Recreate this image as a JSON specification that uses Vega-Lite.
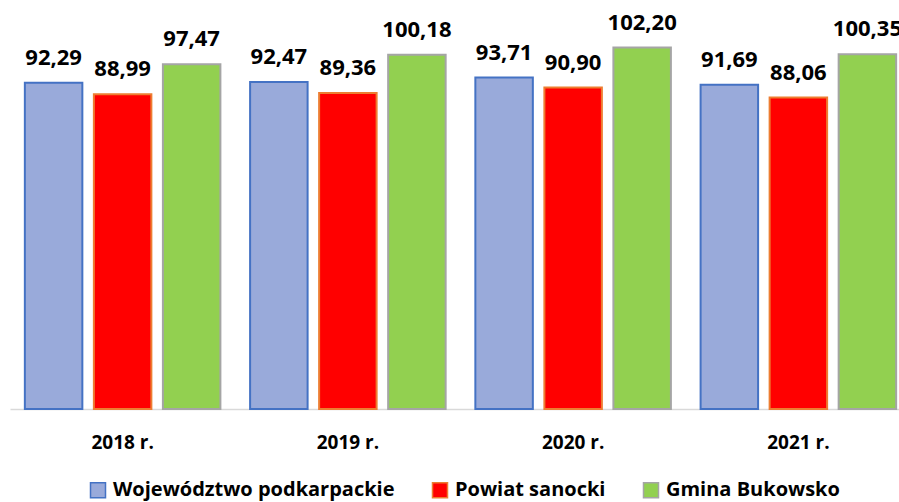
{
  "$schema": "https://vega.github.io/schema/vega-lite/v6.json",
  "autosize": {"type": "none"},
  "padding": {"left": 10, "top": 20, "right": 0, "bottom": 93},
  "width": 901,
  "height": 389,
  "background": "white",
  "config": {
    "locale": {"number": {"decimal": ",", "thousands": " ", "grouping": [3], "currency": ["", " zł"]}},
    "view": {"stroke": null},
    "font": "Open Sans"
  },
  "data": {
    "values": [
      {"rok": "2018 r.", "seria": "Województwo podkarpackie", "wartosc": 92.29},
      {"rok": "2018 r.", "seria": "Powiat sanocki", "wartosc": 88.99},
      {"rok": "2018 r.", "seria": "Gmina Bukowsko", "wartosc": 97.47},
      {"rok": "2019 r.", "seria": "Województwo podkarpackie", "wartosc": 92.47},
      {"rok": "2019 r.", "seria": "Powiat sanocki", "wartosc": 89.36},
      {"rok": "2019 r.", "seria": "Gmina Bukowsko", "wartosc": 100.18},
      {"rok": "2020 r.", "seria": "Województwo podkarpackie", "wartosc": 93.71},
      {"rok": "2020 r.", "seria": "Powiat sanocki", "wartosc": 90.90},
      {"rok": "2020 r.", "seria": "Gmina Bukowsko", "wartosc": 102.20},
      {"rok": "2021 r.", "seria": "Województwo podkarpackie", "wartosc": 91.69},
      {"rok": "2021 r.", "seria": "Powiat sanocki", "wartosc": 88.06},
      {"rok": "2021 r.", "seria": "Gmina Bukowsko", "wartosc": 100.35}
    ]
  },
  "encoding": {
    "x": {
      "field": "rok", "type": "nominal", "title": null,
      "scale": {"paddingInner": 0.081, "paddingOuter": 0.0405},
      "axis": {
        "labelAngle": 0, "ticks": false, "domain": true, "domainColor": "#d9d9d9", "domainWidth": 1.5,
        "labelFont": "Open Sans", "labelFontWeight": "bold", "labelFontSize": 19,
        "labelColor": "#000000", "labelPadding": 24
      }
    },
    "xOffset": {
      "field": "seria", "type": "nominal",
      "sort": ["Województwo podkarpackie", "Powiat sanocki", "Gmina Bukowsko"],
      "scale": {"paddingInner": 0.167, "paddingOuter": 0.083}
    },
    "y": {
      "field": "wartosc", "type": "quantitative", "title": null,
      "scale": {"domain": [0, 110], "nice": false},
      "axis": null
    }
  },
  "layer": [
    {
      "mark": {"type": "bar", "strokeWidth": 2},
      "encoding": {
        "fill": {
          "field": "seria", "type": "nominal", "title": null,
          "sort": ["Województwo podkarpackie", "Powiat sanocki", "Gmina Bukowsko"],
          "scale": {
            "domain": ["Województwo podkarpackie", "Powiat sanocki", "Gmina Bukowsko"],
            "range": ["#99aada", "#ff0000", "#92d050"]
          },
          "legend": {
            "orient": "none", "legendX": 78, "legendY": 460, "direction": "horizontal",
            "symbolType": "square", "symbolSize": 225, "symbolStrokeWidth": 1.5,
            "labelFont": "Open Sans", "labelFontWeight": "bold", "labelFontSize": 20,
            "labelColor": "#000000", "labelOffset": 5, "columnPadding": 34, "labelLimit": 400
          }
        },
        "stroke": {
          "field": "seria", "type": "nominal", "title": null,
          "sort": ["Województwo podkarpackie", "Powiat sanocki", "Gmina Bukowsko"],
          "scale": {
            "domain": ["Województwo podkarpackie", "Powiat sanocki", "Gmina Bukowsko"],
            "range": ["#4472c4", "#ed7d31", "#a5a5a5"]
          }
        }
      }
    },
    {
      "mark": {"type": "text", "baseline": "alphabetic", "dy": -18, "font": "Open Sans", "fontWeight": "bold", "fontSize": 22, "color": "#000000"},
      "encoding": {
        "text": {"field": "wartosc", "type": "quantitative", "format": ".2f"}
      }
    }
  ]
}
